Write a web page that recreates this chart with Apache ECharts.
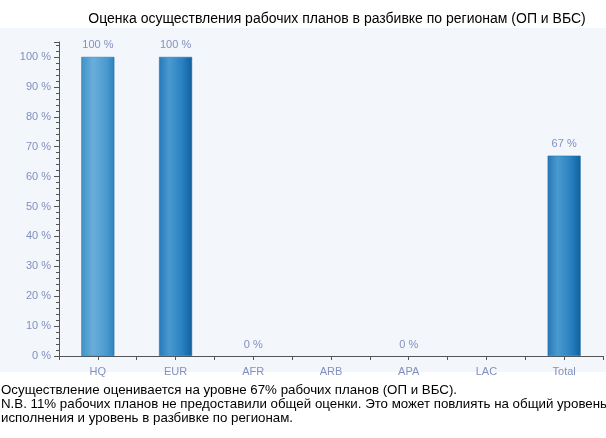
<!DOCTYPE html>
<html><head><meta charset="utf-8">
<script src="https://cdn.jsdelivr.net/npm/echarts@6/dist/echarts.min.js"></script>
<style>html,body{margin:0;padding:0;background:#fff}#c{width:606px;height:438px}</style>
</head><body><div id="c"></div>
<script>
const categories = ['HQ', 'EUR', 'AFR', 'ARB', 'APA', 'LAC', 'Total'];
const values = [100, 100, 0, null, 0, null, 67];
const yTicks = [0, 10, 20, 30, 40, 50, 60, 70, 80, 90, 100];
const title = 'Оценка осуществления рабочих планов в разбивке по регионам (ОП и ВБС)';
const notes = [
  'Осуществление оценивается на уровне 67% рабочих планов (ОП и ВБС).',
  'N.B. 11% рабочих планов не предоставили общей оценки. Это может повлиять на общий уровень',
  'исполнения и уровень в разбивке по регионам.'
];

function grad(light) {
  return light ? new echarts.graphic.LinearGradient(0, 0, 1, 0, [
    {offset: 0, color: '#3f92c8'}, {offset: 0.35, color: '#6aaedb'},
    {offset: 0.75, color: '#4a9bcf'}, {offset: 1, color: '#2f82bd'}
  ]) : new echarts.graphic.LinearGradient(0, 0, 1, 0, [
    {offset: 0, color: '#2578b8'}, {offset: 0.3, color: '#4a9acf'},
    {offset: 0.7, color: '#2a80c0'}, {offset: 1, color: '#11609f'}
  ]);
}

const FONT = '"Liberation Sans", Arial, sans-serif';
const chart = echarts.init(document.getElementById('c'));
chart.setOption({
  backgroundColor: '#ffffff',
  animation: false,
  graphic: [
    {type: 'rect', z: -10, shape: {x: 0, y: 28, width: 606, height: 344}, style: {fill: '#f3f6fb'}},
    {type: 'text', x: 337, y: 12, style: {text: title, font: '14px ' + FONT, fill: '#000', align: 'center'}},
    {type: 'text', x: 1, y: 383, style: {text: notes.join('\n'), font: '13.3px ' + FONT, fill: '#000', lineHeight: 14}}
  ],
  grid: {left: 59, right: 3, top: 42, bottom: 82, containLabel: false},
  xAxis: [{
    type: 'category', data: categories,
    axisLine: {lineStyle: {color: '#555', width: 1}},
    axisTick: {show: true, alignWithLabel: false, length: 4, lineStyle: {color: '#555'}},
    axisLabel: {color: '#8290bf', fontFamily: FONT, fontSize: 11, margin: 10}
  }, {
    type: 'category', data: categories, position: 'bottom',
    axisLine: {show: false},
    axisTick: {show: true, alignWithLabel: true, length: 4, lineStyle: {color: '#555'}},
    axisLabel: {show: false}
  }],
  yAxis: {
    type: 'value', min: 0, max: 105, interval: 10,
    axisLine: {show: true, lineStyle: {color: '#555'}},
    axisTick: {show: true, length: 5, lineStyle: {color: '#555'}},
    minorTick: {show: true, splitNumber: 5, length: 3, lineStyle: {color: '#555'}},
    splitLine: {show: false},
    axisLabel: {color: '#8290bf', fontFamily: FONT, fontSize: 11, margin: 8, showMaxLabel: false,
      formatter: v => yTicks.indexOf(v) >= 0 ? v + ' %' : ''}
  },
  series: [{
    type: 'bar', barWidth: 33,
    data: values.map((v, i) => ({value: v, itemStyle: {color: grad(i === 0), borderWidth: v ? 0.5 : 0}})),
    itemStyle: {borderColor: '#1d6aa5'},
    label: {show: true, position: 'top', distance: 6, color: '#8290bf', fontFamily: FONT, fontSize: 11,
      formatter: p => p.value == null ? '' : p.value + ' %'}
  }]
});
</script></body></html>
